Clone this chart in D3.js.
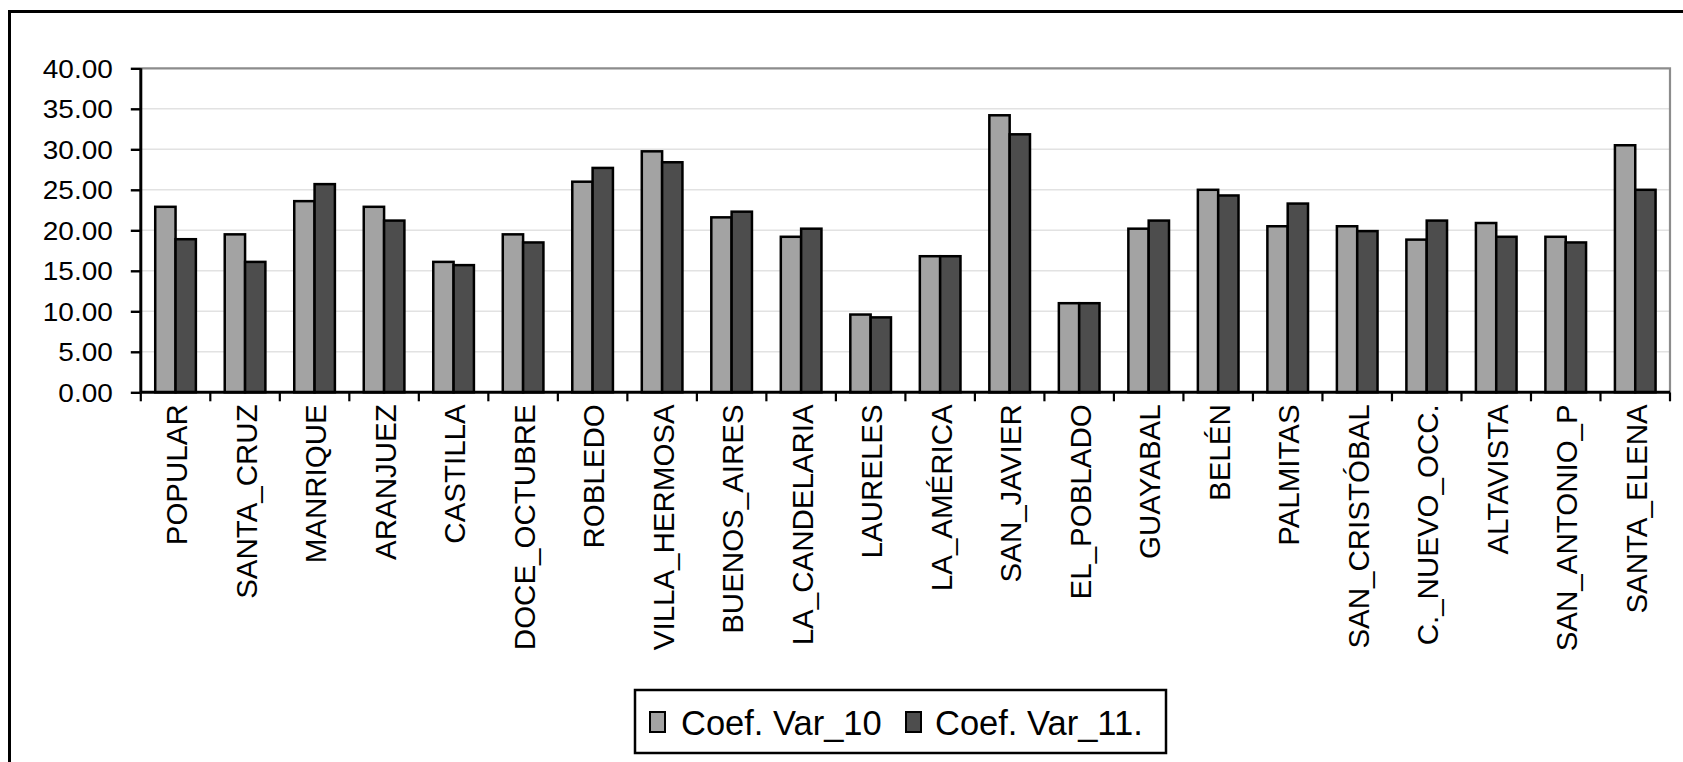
<!DOCTYPE html>
<html>
<head>
<meta charset="utf-8">
<script src="https://cdn.jsdelivr.net/npm/d3@7"></script>
<style>
  html, body { margin: 0; padding: 0; background: #fff; }
  svg { display: block; }
  text { font-family: "Liberation Sans", Arial, sans-serif; fill: #000; }
</style>
</head>
<body>
<svg id="chart" width="1683" height="762"></svg>
<script>
const categories = ["POPULAR","SANTA_CRUZ","MANRIQUE","ARANJUEZ","CASTILLA","DOCE_OCTUBRE","ROBLEDO","VILLA_HERMOSA","BUENOS_AIRES","LA_CANDELARIA","LAURELES","LA_AMÉRICA","SAN_JAVIER","EL_POBLADO","GUAYABAL","BELÉN","PALMITAS","SAN_CRISTÓBAL","C._NUEVO_OCC.","ALTAVISTA","SAN_ANTONIO_P","SANTA_ELENA"];
const seriesNames = ["Coef. Var_10", "Coef. Var_11."];
const coefVar10 = [22.9,19.5,23.6,22.9,16.1,19.5,26.0,29.75,21.6,19.2,9.6,16.8,34.2,11.0,20.2,25.0,20.5,20.5,18.85,20.9,19.2,30.5];
const coefVar11 = [18.9,16.1,25.7,21.2,15.7,18.5,27.7,28.4,22.3,20.2,9.25,16.8,31.85,11.0,21.2,24.3,23.3,19.9,21.2,19.2,18.5,25.0];
const yTicks = [0,5,10,15,20,25,30,35,40];
const yTickLabels = ["0.00","5.00","10.00","15.00","20.00","25.00","30.00","35.00","40.00"];

const colors = ["#a3a3a3", "#4d4d4d"];
const seriesValues = [coefVar10, coefVar11];

(function () {
const svg = d3.select("#chart");
const pL = 140.8, pR = 1670, pT = 68.3, pB = 392.3;

// outer frame
svg.append("rect").attr("x", 9.5).attr("y", 11.5).attr("width", 1720).attr("height", 820)
  .attr("fill", "none").attr("stroke", "#000").attr("stroke-width", 3);

const x0 = d3.scaleBand().domain(categories).range([pL, pR]).padding(0);
const x1 = d3.scaleBand().domain(seriesNames).range([0, x0.bandwidth()]).paddingInner(0).paddingOuter(0.71);
const y = d3.scaleLinear().domain([0, 40]).range([pB, pT]);

// gridlines
svg.append("g").selectAll("line").data(yTicks.filter(t => t > 0 && t < 40)).join("line")
  .attr("x1", pL).attr("x2", pR).attr("y1", d => y(d)).attr("y2", d => y(d))
  .attr("stroke", "#e2e2e2").attr("stroke-width", 1.5);

// plot border top/right (gray)
svg.append("path")
  .attr("d", `M${pL},${y(40)}H${pR}V${pB}`)
  .attr("fill", "none").attr("stroke", "#8c8c8c").attr("stroke-width", 2.2);

// bars
const groups = svg.append("g").selectAll("g").data(categories).join("g")
  .attr("transform", d => `translate(${x0(d)},0)`);
groups.selectAll("rect").data((d, i) => seriesNames.map((s, k) => ({s, k, v: seriesValues[k][i]}))).join("rect")
  .attr("x", d => x1(d.s))
  .attr("width", x1.bandwidth())
  .attr("y", d => y(d.v))
  .attr("height", d => y(0) - y(d.v))
  .attr("fill", d => colors[d.k])
  .attr("stroke", "#000").attr("stroke-width", 2.5);

// y axis
const yAxis = svg.append("g").attr("transform", `translate(${pL},0)`)
  .call(d3.axisLeft(y).tickValues(yTicks).tickSize(10).tickPadding(0)
    .tickFormat((d, i) => yTickLabels[i]));
yAxis.select(".domain").attr("stroke", "#000").attr("stroke-width", 3).attr("d", `M0,${pT}V${pB}`);
yAxis.selectAll(".tick line").attr("stroke", "#000").attr("stroke-width", 2.4);
yAxis.selectAll(".tick text")
  .attr("font-size", 25).attr("x", 0).attr("dy", "0.36em")
  .attr("text-anchor", "end")
  .attr("fill", "#000")
  .attr("transform", "translate(-28,0) scale(1.12,1)")
  .style("font-family", "'Liberation Sans', Arial, sans-serif");

// x axis
const xAxis = svg.append("g").attr("transform", `translate(0,${pB})`)
  .call(d3.axisBottom(x0).tickSize(0).tickFormat(""));
xAxis.select(".domain").attr("stroke", "#000").attr("stroke-width", 3).attr("d", `M${pL},0H${pR}`);
xAxis.selectAll(".tick").remove();
// boundary ticks
const bounds = categories.map(c => x0(c)).concat([pR]);
svg.append("g").selectAll("line").data(bounds).join("line")
  .attr("x1", d => d).attr("x2", d => d)
  .attr("y1", pB).attr("y2", pB + 9)
  .attr("stroke", "#000").attr("stroke-width", 2.2);

// category labels
svg.append("g").selectAll("text").data(categories).join("text")
  .attr("transform", d => `translate(${x0(d) + x0.bandwidth() / 2 + 1},${pB + 12}) rotate(-90)`)
  .attr("text-anchor", "end")
  .attr("dy", "0.36em")
  .attr("font-size", 29.5)
  .text(d => d);

// legend
const lg = svg.append("g");
lg.append("rect").attr("x", 635).attr("y", 690).attr("width", 531).attr("height", 63)
  .attr("fill", "#fff").attr("stroke", "#000").attr("stroke-width", 2.5);
const swatchX = [650, 906];
const labelX = [681, 935];
seriesNames.forEach((s, k) => {
  lg.append("rect").attr("x", swatchX[k]).attr("y", 712).attr("width", 15).attr("height", 20)
    .attr("fill", colors[k]).attr("stroke", "#000").attr("stroke-width", 2);
  lg.append("text").attr("x", labelX[k]).attr("y", 735).attr("font-size", 34.5).text(s);
});
})();
</script>
</body>
</html>
